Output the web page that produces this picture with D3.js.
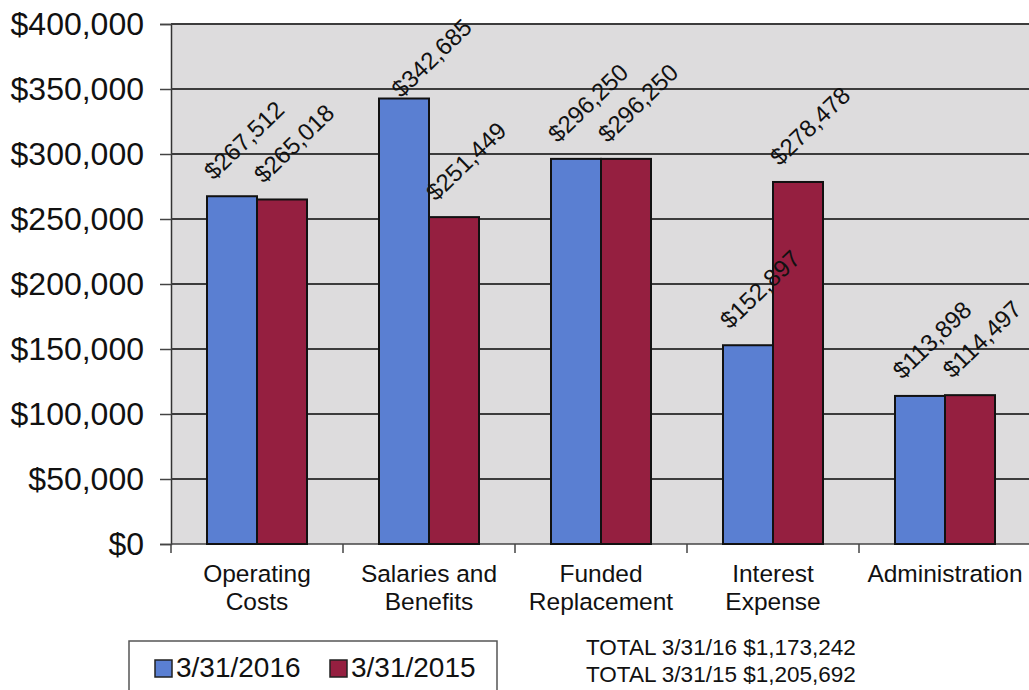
<!DOCTYPE html>
<html>
<head>
<meta charset="utf-8">
<script src="https://cdn.jsdelivr.net/npm/d3@7"></script>
<style>
    body { margin: 0; background: #fff; }
    svg text { font-family: "Liberation Sans", Arial, sans-serif; fill: #111; }
</style>
</head>
<body>
<svg id="chart" width="1029" height="690"></svg>
<script>
var categories = [
        [ 'Operating', 'Costs' ],
        [ 'Salaries and', 'Benefits' ],
        [ 'Funded', 'Replacement' ],
        [ 'Interest', 'Expense' ],
        [ 'Administration' ]
    ],
    seriesNames = [ '3/31/2016', '3/31/2015' ],
    totalLabels = [ 'TOTAL 3/31/16', 'TOTAL 3/31/15' ],
    values2016 = [ 267512, 342685, 296250, 152897, 113898 ],
    values2015 = [ 265018, 251449, 296250, 278478, 114497 ],
    yTicks = [ 0, 50000, 100000, 150000, 200000, 250000, 300000, 350000, 400000 ];

var colors = { '3/31/2016': '#5a7fd2', '3/31/2015': '#951f40' };

var svg = d3.select( '#chart' ),
    margin = { top: 24, left: 171, bottom: 146 },
    plotH = 690 - margin.top - margin.bottom,
    money = d3.format( '$,.0f' ),
    series = [ values2016, values2015 ];

var x = d3.scaleBand()
        .domain( d3.range( categories.length ) )
        .range( [ margin.left, margin.left + 172 * categories.length ] ),
    xSub = d3.scaleBand()
        .domain( seriesNames )
        .range( [ 0, x.bandwidth() ] )
        .paddingInner( 0 )
        .paddingOuter( 0.72 ),
    y = d3.scaleLinear()
        .domain( [ 0, 400000 ] )
        .range( [ margin.top + plotH, margin.top ] );

// plot background
svg.append( 'rect' )
    .attr( 'x', x.range()[ 0 ] )
    .attr( 'y', y( 400000 ) )
    .attr( 'width', x.range()[ 1 ] - x.range()[ 0 ] )
    .attr( 'height', y( 0 ) - y( 400000 ) )
    .attr( 'fill', '#dddcdd' );

// y axis with gridlines
var yAxis = svg.append( 'g' )
    .attr( 'transform', 'translate(' + margin.left + ',0)' )
    .call( d3.axisLeft( y ).tickValues( yTicks ).tickFormat( money ).tickSize( 11 ).tickPadding( 16 ) );
yAxis.select( '.domain' ).attr( 'stroke', '#333' ).attr( 'stroke-width', 1.5 );
yAxis.selectAll( '.tick line' ).attr( 'stroke', '#444' ).attr( 'stroke-width', 1.5 );
yAxis.selectAll( '.tick text' ).attr( 'font-size', 32 ).attr( 'fill', '#111' ).style( 'font-family', '"Liberation Sans", Arial, sans-serif' );

svg.append( 'g' ).selectAll( 'line' )
    .data( yTicks.filter( function( d ) { return d > 0; } ) )
    .join( 'line' )
    .attr( 'x1', margin.left )
    .attr( 'x2', x.range()[ 1 ] )
    .attr( 'y1', function( d ) { return y( d ); } )
    .attr( 'y2', function( d ) { return y( d ); } )
    .attr( 'stroke', '#3c3c3c' )
    .attr( 'stroke-width', 1.8 );

// x axis baseline and ticks
svg.append( 'line' )
    .attr( 'x1', margin.left ).attr( 'x2', x.range()[ 1 ] )
    .attr( 'y1', y( 0 ) ).attr( 'y2', y( 0 ) )
    .attr( 'stroke', '#444' ).attr( 'stroke-width', 1.5 );

svg.append( 'g' ).selectAll( 'line' )
    .data( d3.range( categories.length + 1 ) )
    .join( 'line' )
    .attr( 'x1', function( i ) { return margin.left + i * x.step(); } )
    .attr( 'x2', function( i ) { return margin.left + i * x.step(); } )
    .attr( 'y1', y( 0 ) )
    .attr( 'y2', y( 0 ) + 9 )
    .attr( 'stroke', '#444' )
    .attr( 'stroke-width', 1.5 );

// category labels
svg.append( 'g' ).selectAll( 'text' )
    .data( categories )
    .join( 'text' )
    .attr( 'text-anchor', 'middle' )
    .attr( 'font-size', 24.5 )
    .each( function( lines, i ) {
        d3.select( this ).selectAll( 'tspan' )
            .data( lines )
            .join( 'tspan' )
            .attr( 'x', x( i ) + x.bandwidth() / 2 )
            .attr( 'y', function( d, j ) { return 582 + j * 28; } )
            .text( function( d ) { return d; } );
    } );

// bars
var groups = svg.append( 'g' ).selectAll( 'g' )
    .data( categories )
    .join( 'g' )
    .attr( 'transform', function( d, i ) { return 'translate(' + x( i ) + ',0)'; } );

groups.selectAll( 'rect' )
    .data( function( d, i ) {
        return seriesNames.map( function( s, k ) { return { key: s, value: series[ k ][ i ] }; } );
    } )
    .join( 'rect' )
    .attr( 'x', function( d ) { return xSub( d.key ); } )
    .attr( 'y', function( d ) { return y( d.value ); } )
    .attr( 'width', xSub.bandwidth() )
    .attr( 'height', function( d ) { return y( 0 ) - y( d.value ); } )
    .attr( 'fill', function( d ) { return colors[ d.key ]; } )
    .attr( 'stroke', '#111' )
    .attr( 'stroke-width', 2 );

// rotated value labels (slid down-right along the diagonal when they would leave the top)
var labelMinY = 58;
groups.selectAll( 'text' )
    .data( function( d, i ) {
        return seriesNames.map( function( s, k ) { return { key: s, value: series[ k ][ i ] }; } );
    } )
    .join( 'text' )
    .attr( 'transform', function( d ) {
        var cy = y( d.value ) - 56,
            shift = Math.max( 0, labelMinY - cy ),
            cx = xSub( d.key ) + xSub.bandwidth() / 2 + 12 + shift;
        return 'translate(' + cx + ',' + ( cy + shift ) + ') rotate(-44)';
    } )
    .attr( 'text-anchor', 'middle' )
    .attr( 'dy', '0.35em' )
    .attr( 'font-size', 24 )
    .text( function( d ) { return money( d.value ); } );

// legend
var legend = svg.append( 'g' );
legend.append( 'rect' )
    .attr( 'x', 129 ).attr( 'y', 641 )
    .attr( 'width', 368 ).attr( 'height', 80 )
    .attr( 'fill', '#fff' )
    .attr( 'stroke', '#555' )
    .attr( 'stroke-width', 1.5 );

var legendItems = legend.selectAll( 'g.item' )
    .data( seriesNames )
    .join( 'g' )
    .attr( 'class', 'item' )
    .attr( 'transform', function( d, i ) { return 'translate(' + ( 155 + i * 175 ) + ',0)'; } );

legendItems.append( 'rect' )
    .attr( 'x', 0 ).attr( 'y', 660 )
    .attr( 'width', 17 ).attr( 'height', 17 )
    .attr( 'fill', function( d ) { return colors[ d ]; } )
    .attr( 'stroke', '#222' )
    .attr( 'stroke-width', 1.5 );

legendItems.append( 'text' )
    .attr( 'x', 21 ).attr( 'y', 677 )
    .attr( 'font-size', 28 )
    .text( function( d ) { return d; } );

// totals
svg.append( 'g' ).selectAll( 'text' )
    .data( series )
    .join( 'text' )
    .attr( 'x', 586 )
    .attr( 'y', function( d, i ) { return 655 + i * 27; } )
    .attr( 'font-size', 22.5 )
    .text( function( d, i ) { return totalLabels[ i ] + ' ' + money( d3.sum( d ) ); } );
</script>
</body>
</html>
